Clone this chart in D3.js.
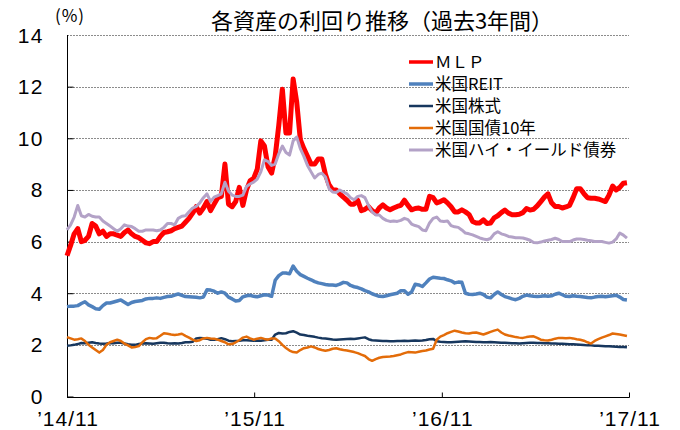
<!DOCTYPE html>
<html>
<head>
<meta charset="utf-8">
<script src="https://cdn.jsdelivr.net/npm/d3@7"></script>
<style>
  body { margin: 0; background: #fff; }
  #chart { width: 680px; height: 430px; }
  text { font-family: "Liberation Sans", Arial, sans-serif; fill: #000; }
  .jp { font-family: "Noto Sans CJK JP", sans-serif; }
</style>
</head>
<body>
<div id="chart"></div>
<script>
"use strict";

// weekly observations starting from this date
var startDate = "2014-11-01";

var seriesNames = ["ＭＬＰ", "米国REIT", "米国株式", "米国国債10年", "米国ハイ・イールド債券"];
var seriesColors = ["#ff0000", "#4f81bd", "#17375e", "#e36c09", "#b3a2c7"];
var seriesWidths = [5, 3.5, 2.5, 2.5, 3];

var mlp = [
  5.45, 5.85, 6.3, 6.5, 6.0, 6.05, 6.2, 6.7, 6.6, 6.3, 6.4, 6.2, 6.3, 6.3, 6.25, 6.2, 6.35, 6.45, 6.3, 6.2,
  6.15, 6.05, 5.95, 5.92, 6.0, 6.0, 6.2, 6.35, 6.38, 6.42, 6.5, 6.55, 6.6, 6.75, 6.9, 7.1, 7.35, 7.1, 7.3, 7.55,
  7.2, 7.45, 7.7, 7.75, 9.0, 7.45, 7.35, 7.55, 8.1, 7.4, 8.0, 8.35, 8.45, 8.8, 9.9, 9.7, 8.9, 8.65, 9.3, 10.5,
  11.9, 10.2, 10.2, 12.3, 11.4, 9.95, 9.6, 9.3, 9.0, 9.0, 9.2, 9.2, 8.6, 8.2, 8.0, 8.0, 7.85, 7.72, 7.6, 7.45,
  7.45, 7.6, 7.2, 7.25, 7.35, 7.2, 7.1, 7.3, 7.42, 7.3, 7.23, 7.3, 7.36, 7.4, 7.6, 7.4, 7.23, 7.28, 7.3, 7.25,
  7.25, 7.75, 7.7, 7.5, 7.55, 7.62, 7.5, 7.35, 7.15, 7.15, 7.23, 7.15, 7.05, 6.78, 6.72, 6.72, 6.84, 6.7, 6.72, 6.92,
  7.0, 7.12, 7.22, 7.1, 7.04, 7.04, 7.06, 7.12, 7.28, 7.22, 7.25, 7.38, 7.55, 7.72, 7.85, 7.5, 7.36, 7.36, 7.3, 7.34,
  7.4, 7.7, 8.05, 8.05, 7.86, 7.7, 7.68, 7.68, 7.65, 7.6, 7.55, 7.8, 8.15, 8.0, 8.1, 8.26, 8.28
];

var reit = [
  3.48, 3.5, 3.5, 3.52, 3.6, 3.67, 3.55, 3.48, 3.4, 3.38, 3.52, 3.62, 3.62, 3.66, 3.7, 3.74, 3.65, 3.56, 3.64, 3.68,
  3.7, 3.72, 3.78, 3.8, 3.8, 3.82, 3.8, 3.84, 3.87, 3.88, 3.93, 3.97, 3.92, 3.87, 3.86, 3.85, 3.84, 3.82, 3.85, 4.13,
  4.12, 4.08, 4.0, 4.05, 4.0, 3.85, 3.78, 3.7, 3.72, 3.86, 3.9, 3.92, 3.88, 3.86, 3.9, 3.94, 3.93, 3.88, 4.5, 4.68,
  4.78, 4.78, 4.75, 5.05, 4.85, 4.72, 4.65, 4.58, 4.52, 4.45, 4.4, 4.37, 4.34, 4.32, 4.32, 4.3, 4.35, 4.42, 4.4, 4.3,
  4.25, 4.22, 4.17, 4.1, 4.05, 3.98, 3.93, 3.88, 3.87, 3.9, 3.94, 3.97, 4.0, 4.1, 4.1, 3.96, 4.05, 4.35, 4.32, 4.26,
  4.4, 4.55, 4.62, 4.6, 4.58, 4.57, 4.52, 4.48, 4.4, 4.43, 4.42, 4.0, 3.96, 3.95, 3.97, 4.0, 3.95, 3.85, 3.82, 3.95,
  4.05, 3.95, 3.87, 3.83, 3.78, 3.75, 3.8, 3.88, 3.93, 3.9, 3.88, 3.87, 3.88, 3.9, 3.88, 3.9, 3.96, 4.0, 3.94, 3.88,
  3.87, 3.9, 3.88, 3.87, 3.85, 3.83, 3.82, 3.85, 3.87, 3.88, 3.86, 3.88, 3.9, 3.92, 3.85, 3.76, 3.74
];

var stocks = [
  1.97, 1.98, 2.0, 2.03, 2.07, 2.06, 2.08, 2.1, 2.07, 2.05, 2.04, 2.05, 2.07, 2.06, 2.08, 2.08, 2.05, 2.02, 2.0, 2.0,
  2.03, 2.05, 2.06, 2.05, 2.04, 2.06, 2.08, 2.08, 2.06, 2.05, 2.06, 2.05, 2.07, 2.1, 2.1, 2.12, 2.25, 2.27, 2.26, 2.24,
  2.2, 2.2, 2.22, 2.26, 2.22, 2.16, 2.14, 2.15, 2.16, 2.18, 2.18, 2.17, 2.16, 2.17, 2.16, 2.18, 2.2, 2.2, 2.4, 2.46,
  2.44, 2.45, 2.5, 2.53, 2.47, 2.4, 2.38, 2.35, 2.33, 2.31, 2.28, 2.26, 2.25, 2.23, 2.21, 2.2, 2.21, 2.22, 2.23, 2.24,
  2.23, 2.25, 2.27, 2.29, 2.22, 2.18, 2.17, 2.16, 2.15, 2.15, 2.14, 2.14, 2.15, 2.15, 2.16, 2.15, 2.16, 2.17, 2.16, 2.17,
  2.19, 2.22, 2.23, 2.14, 2.12, 2.11, 2.1, 2.1, 2.11, 2.12, 2.13, 2.14, 2.13, 2.12, 2.11, 2.11, 2.1, 2.1, 2.11, 2.1,
  2.09, 2.08, 2.08, 2.07, 2.06, 2.06, 2.05, 2.06, 2.07, 2.08, 2.08, 2.07, 2.07, 2.06, 2.06, 2.05, 2.05, 2.04, 2.04, 2.03,
  2.02, 2.02, 2.01, 2.0, 1.99, 1.98, 1.98, 1.97, 1.97, 1.96, 1.95, 1.95, 1.94, 1.93, 1.92, 1.92, 1.91
];

var treasury10y = [
  2.3, 2.25, 2.2, 2.22, 2.25, 2.15, 2.0, 1.9, 1.8, 1.7, 1.8, 2.0, 2.1, 2.15, 2.2, 2.15, 2.05, 1.98, 1.9, 1.92,
  1.95, 2.1, 2.22, 2.27, 2.25, 2.26, 2.35, 2.45, 2.43, 2.4, 2.38, 2.4, 2.43, 2.35, 2.28, 2.2, 2.15, 2.18, 2.25, 2.27,
  2.25, 2.24, 2.2, 2.15, 2.1, 2.02, 2.03, 2.1, 2.18, 2.28, 2.32, 2.25, 2.2, 2.24, 2.27, 2.23, 2.2, 2.25, 2.25, 2.14,
  2.0, 1.88, 1.78, 1.72, 1.7, 1.8, 1.87, 1.9, 1.94, 1.9, 1.84, 1.8, 1.77, 1.8, 1.85, 1.87, 1.83, 1.8, 1.78, 1.75,
  1.72, 1.68, 1.62, 1.57, 1.45, 1.38, 1.45, 1.5, 1.53, 1.54, 1.55, 1.57, 1.6, 1.63, 1.68, 1.72, 1.71, 1.7, 1.73, 1.76,
  1.78, 1.82, 1.85, 2.2, 2.32, 2.38, 2.45, 2.5, 2.55, 2.52, 2.48, 2.45, 2.44, 2.47, 2.48, 2.44, 2.4, 2.45, 2.5, 2.55,
  2.59, 2.48, 2.4, 2.36, 2.33, 2.3, 2.28, 2.27, 2.3, 2.32, 2.33, 2.27, 2.2, 2.18, 2.17, 2.2, 2.24, 2.27, 2.27, 2.26,
  2.27, 2.25, 2.22, 2.2, 2.16, 2.1, 2.05, 2.15, 2.22, 2.28, 2.33, 2.38, 2.44, 2.42, 2.4, 2.37, 2.34
];

var highYield = [
  6.45, 6.65, 6.95, 7.4, 7.0, 6.95, 7.05, 6.98, 6.95, 6.95, 6.8, 6.7, 6.6, 6.5, 6.4, 6.5, 6.65, 6.6, 6.58, 6.5,
  6.4, 6.4, 6.45, 6.45, 6.45, 6.42, 6.45, 6.55, 6.7, 6.7, 6.65, 6.9, 6.98, 7.0, 7.15, 7.3, 7.36, 7.5, 7.7, 7.85,
  7.55, 7.72, 7.78, 7.85, 8.3, 7.95, 7.8, 7.75, 7.75, 7.8, 8.13, 8.23, 8.3, 8.42, 8.7, 9.17, 9.1, 8.95, 9.0, 9.4,
  9.7, 9.45, 9.35, 9.9, 10.05, 9.6, 9.3, 8.95, 8.7, 8.46, 8.6, 8.65, 8.5, 8.05, 7.92, 7.9, 8.0, 7.92, 7.85, 7.7,
  7.62, 7.75, 7.78, 7.7, 7.4, 7.15, 7.03, 7.03, 6.9, 6.82, 6.78, 6.8, 6.78, 6.82, 6.9, 6.85, 6.68, 6.62, 6.58, 6.45,
  6.42, 6.72, 6.9, 6.95, 6.8, 6.78, 6.8, 6.62, 6.57, 6.55, 6.45, 6.33, 6.3, 6.26, 6.2, 6.14, 6.1, 6.07, 6.12, 6.3,
  6.38, 6.3, 6.26, 6.2, 6.18, 6.15, 6.15, 6.14, 6.1, 6.05, 5.96, 5.95, 5.98, 6.02, 6.05, 6.08, 6.13, 6.08, 6.0, 6.0,
  6.0, 6.06, 6.1, 6.1, 6.08, 6.05, 6.03, 6.0, 6.0, 6.0, 5.97, 5.94, 5.98, 6.1, 6.33, 6.25, 6.13
];

var allSeries = [mlp, reit, stocks, treasury10y, highYield];

var yTicks = [0, 2, 4, 6, 8, 10, 12, 14];
var xTickDates = ["2014-11-01", "2015-11-01", "2016-11-01", "2017-11-01"];
var xTickLabels = ["’14/11", "’15/11", "’16/11", "’17/11"];

var parseDate = d3.timeParse("%Y-%m-%d");
var start = parseDate(startDate);
var dates = mlp.map((d, i) => d3.timeDay.offset(start, 7 * i));

// svg
var svg = d3.select("#chart")
    .append("svg")
    .attr("width", 680)
    .attr("height", 430);

// plot box
var plotLeft = 67, plotRight = 629, plotTop = 35, plotBottom = 396.5;

var x = d3.scaleTime()
    .domain([parseDate(xTickDates[0]), parseDate(xTickDates[xTickDates.length - 1])])
    .range([plotLeft, plotRight]);

var y = d3.scaleLinear()
    .domain([0, 14])
    .range([plotBottom, plotTop]);

// dotted gridlines
svg.append("g")
    .selectAll("line")
    .data(yTicks.filter(d => d > 0))
    .join("line")
    .attr("x1", plotLeft)
    .attr("x2", plotRight)
    .attr("y1", d => Math.round(y(d)) + 0.5)
    .attr("y2", d => Math.round(y(d)) + 0.5)
    .attr("stroke", "#8c8c8c")
    .attr("stroke-width", 1)
    .attr("stroke-dasharray", "2,1");

// left axis, ticks point inward
var yAxis = svg.append("g")
    .attr("transform", `translate(${plotLeft + 0.5},0)`)
    .call(d3.axisRight(y).tickValues(yTicks.filter(d => d < 14)).tickSize(6).tickFormat(""));
yAxis.select(".domain").remove();
yAxis.selectAll("line").attr("stroke", "#000");

svg.append("line")
    .attr("x1", plotLeft + 0.5).attr("x2", plotLeft + 0.5)
    .attr("y1", plotTop).attr("y2", plotBottom)
    .attr("stroke", "#000");

// y tick labels
svg.append("g")
    .selectAll("text")
    .data(yTicks)
    .join("text")
    .attr("x", 44)
    .attr("y", d => y(d) + 7.5)
    .attr("text-anchor", "end")
    .attr("font-size", 21)
    .attr("letter-spacing", 1.5)
    .text(d => d);

// bottom axis, ticks point up
var xAxis = svg.append("g")
    .attr("transform", `translate(0,${Math.round(plotBottom) + 0.5})`)
    .call(d3.axisTop(x).tickValues(xTickDates.map(parseDate)).tickSize(5).tickFormat(""));
xAxis.select(".domain").remove();
xAxis.selectAll("line").attr("stroke", "#000");

svg.append("line")
    .attr("x1", plotLeft).attr("x2", plotRight + 0.5)
    .attr("y1", Math.round(plotBottom) + 0.5).attr("y2", Math.round(plotBottom) + 0.5)
    .attr("stroke", "#000");

// x tick labels
svg.append("g")
    .selectAll("text")
    .data(xTickDates)
    .join("text")
    .attr("x", d => x(parseDate(d)) + 1)
    .attr("y", 426)
    .attr("text-anchor", "middle")
    .attr("font-size", 21)
    .attr("letter-spacing", 1)
    .text((d, i) => xTickLabels[i]);

// lines
var line = d3.line()
    .x((d, i) => x(dates[i]))
    .y(d => y(d));

allSeries.forEach((s, k) => {
    svg.append("path")
        .datum(s)
        .attr("fill", "none")
        .attr("stroke", seriesColors[k])
        .attr("stroke-width", seriesWidths[k])
        .attr("stroke-linejoin", "round")
        .attr("d", line);
});

// title + unit
svg.append("text")
    .attr("class", "jp")
    .attr("x", 382)
    .attr("y", 29)
    .attr("text-anchor", "middle")
    .attr("font-size", 22)
    .text("各資産の利回り推移（過去3年間）");

svg.append("text")
    .attr("class", "jp")
    .attr("x", 70)
    .attr("y", 22)
    .attr("text-anchor", "middle")
    .attr("font-size", 17)
    .attr("letter-spacing", 1)
    .text("(%)");

// legend
var legend = svg.append("g")
    .selectAll("g")
    .data(seriesNames)
    .join("g")
    .attr("transform", (d, i) => `translate(409,${62 + i * 22})`);

legend.append("line")
    .attr("x1", 0).attr("x2", 24)
    .attr("stroke", (d, i) => seriesColors[i])
    .attr("stroke-width", (d, i) => Math.min(seriesWidths[i], 3.5));

legend.append("text")
    .attr("class", "jp")
    .attr("x", 26)
    .attr("y", 6)
    .attr("font-size", 16.5)
    .text(d => d);
</script>
</body>
</html>
